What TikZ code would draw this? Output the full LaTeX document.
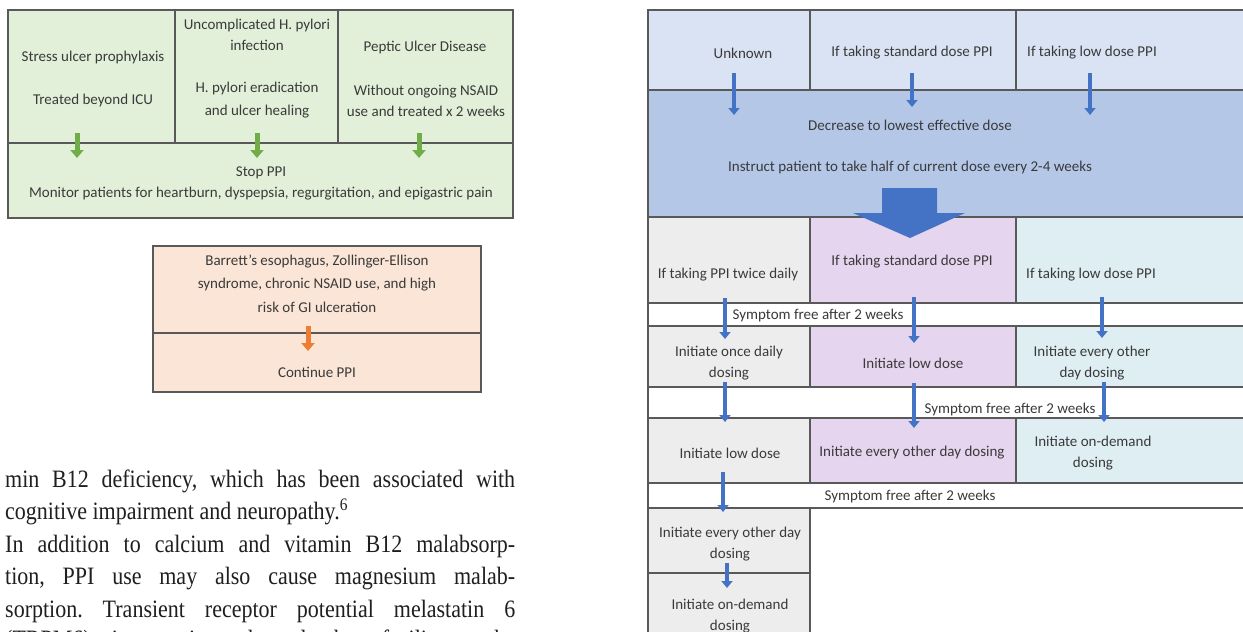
\documentclass[tikz,border=0pt]{standalone}
\usepackage{fontspec}
\setmainfont{Liberation Serif}
\newfontfamily\calib{Carlito}
\newfontfamily\bodyfont[FakeStretch=0.88]{Liberation Serif}
\usetikzlibrary{arrows.meta}
\definecolor{bordc}{HTML}{595959}
\definecolor{txtc}{HTML}{3A3A3A}
\definecolor{gfill}{HTML}{E2F0D9}
\definecolor{ofill}{HTML}{FBE5D6}
\definecolor{garrow}{HTML}{70AD47}
\definecolor{oarrow}{HTML}{ED7D31}
\definecolor{bluea}{HTML}{4472C4}
\definecolor{tfill}{HTML}{DAE3F3}
\definecolor{bigfill}{HTML}{B4C7E7}
\definecolor{grayf}{HTML}{EDEDED}
\definecolor{purf}{HTML}{E6D5EF}
\definecolor{cyf}{HTML}{DEEEF3}
\tikzset{
 cell/.style={draw=bordc, line width=1.1pt, inner sep=0pt, outer sep=0pt, rectangle},
 lbl/.style={font=\calib\fontsize{15}{21}\selectfont, text=txtc, align=center, inner sep=0pt},
 para/.style={font=\bodyfont\fontsize{25}{32}\selectfont\frenchspacing, text=black!88, inner sep=0pt, anchor=base west},
 barrow/.style={draw=bluea, line width=4pt, -{Triangle[width=11pt,length=7pt]}},
 garr/.style={draw=garrow, line width=5pt, -{Triangle[width=13pt,length=8pt]}},
 oarr/.style={draw=oarrow, line width=5pt, -{Triangle[width=13pt,length=8pt]}},
}
\begin{document}
\begin{tikzpicture}[x=1pt,y=-1pt]
\useasboundingbox (0,0) rectangle (1243,632);
\fill[white] (0,0) rectangle (1243,632);
\clip (0,0) rectangle (1243,632);

% ---------- green block ----------
\node[cell, fill=gfill, minimum width=167pt, minimum height=133pt] (g1) at (91.5,76.5) {};
\node[cell, fill=gfill, minimum width=163pt, minimum height=133pt] (g2) at (256.5,76.5) {};
\node[cell, fill=gfill, minimum width=175pt, minimum height=133pt] (g3) at (425.5,76.5) {};
\node[cell, fill=gfill, minimum width=505pt, minimum height=75pt] (g4) at (260.5,180.5) {};

\node[lbl] (g1a) at (93,57) {Stress ulcer prophylaxis};
\node[lbl] (g1b) at (93,100) {Treated beyond ICU};
\node[lbl] (g2a) at (257,35) {Uncomplicated H. pylori\\infection};
\node[lbl, font=\calib\fontsize{15}{23}\selectfont] (g2b) at (257,100) {H. pylori eradication\\and ulcer healing};
\node[lbl] (g3a) at (425,47) {Peptic Ulcer Disease};
\node[lbl] (g3b) at (426,101) {Without ongoing NSAID\\use and treated x 2 weeks};
\node[lbl] (g4a) at (261,183) {Stop PPI\\Monitor patients for heartburn, dyspepsia, regurgitation, and epigastric pain};

\coordinate (ga1) at (77,133);  \coordinate (gb1) at (77,158);
\coordinate (ga2) at (257,133); \coordinate (gb2) at (257,158);
\coordinate (ga3) at (419,133); \coordinate (gb3) at (419,158);
\draw[garr] (ga1) -- (gb1);
\draw[garr] (ga2) -- (gb2);
\draw[garr] (ga3) -- (gb3);

% ---------- orange block ----------
\node[cell, fill=ofill, minimum width=328pt, minimum height=87pt] (o1) at (317,289.5) {};
\node[cell, fill=ofill, minimum width=328pt, minimum height=59pt] (o2) at (317,362.5) {};
\node[lbl, font=\calib\fontsize{15}{23.5}\selectfont] (o1t) at (317,283.5) {Barrett’s esophagus, Zollinger-Ellison\\syndrome, chronic NSAID use, and high\\risk of GI ulceration};
\node[lbl] (o2t) at (317,372) {Continue PPI};
\coordinate (oa) at (308,326); \coordinate (ob) at (308,351);
\draw[oarr] (oa) -- (ob);

% ---------- body text ----------
\node[para] (p1) at (5,487) {\makebox[510pt][s]{min B12 deficiency, which has been associated with}};
\node[para] (p2) at (5,519.5) {cognitive impairment and neuropathy.\textsuperscript{6}};
\node[para] (p3) at (5,552) {\makebox[510pt][s]{In addition to calcium and vitamin B12 malabsorp-}};
\node[para] (p4) at (5,584.5) {\makebox[510pt][s]{tion, PPI use may also cause magnesium malab-}};
\node[para] (p5) at (5,617) {\makebox[510pt][s]{sorption. Transient receptor potential melastatin 6}};
\node[para] (p6) at (5,647) {\makebox[510pt][s]{(TRPM6) is an ion channel that facilitates the}};

% ---------- right flow ----------
\node[cell, fill=tfill, minimum width=162pt, minimum height=80pt] (t1) at (729,50) {};
\node[cell, fill=tfill, minimum width=206pt, minimum height=80pt] (t2) at (913,50) {};
\node[cell, fill=tfill, minimum width=236pt, minimum height=80pt] (t3) at (1134,50) {};
\node[cell, fill=bigfill, minimum width=604pt, minimum height=127pt] (big) at (950,153.5) {};

\node[cell, fill=grayf, minimum width=162pt, minimum height=86pt] (r1a) at (729,260) {};
\node[cell, fill=purf, minimum width=206pt, minimum height=86pt] (r1b) at (913,260) {};
\node[cell, fill=cyf, minimum width=236pt, minimum height=86pt] (r1c) at (1134,260) {};
\node[cell, fill=white, minimum width=604pt, minimum height=23pt] (s1) at (950,314.5) {};

\node[cell, fill=grayf, minimum width=162pt, minimum height=61pt] (r2a) at (729,356.5) {};
\node[cell, fill=purf, minimum width=206pt, minimum height=61pt] (r2b) at (913,356.5) {};
\node[cell, fill=cyf, minimum width=236pt, minimum height=61pt] (r2c) at (1134,356.5) {};
\node[cell, fill=white, minimum width=604pt, minimum height=31pt] (s2) at (950,402.5) {};

\node[cell, fill=grayf, minimum width=162pt, minimum height=65pt] (r3a) at (729,450.5) {};
\node[cell, fill=purf, minimum width=206pt, minimum height=65pt] (r3b) at (913,450.5) {};
\node[cell, fill=cyf, minimum width=236pt, minimum height=65pt] (r3c) at (1134,450.5) {};
\node[cell, fill=white, minimum width=604pt, minimum height=25pt] (s3) at (950,495.5) {};

\node[cell, fill=grayf, minimum width=162pt, minimum height=65pt] (r4a) at (729,540.5) {};
\node[cell, fill=grayf, minimum width=162pt, minimum height=87pt] (r5a) at (729,616.5) {};

% big block arrow
\fill[bluea] (882,188) -- (937,188) -- (937,213) -- (965,213) -- (910,238) -- (853,213) -- (882,213) -- cycle;

% labels
\node[lbl] (t1t) at (743,53) {Unknown};
\node[lbl] (t2t) at (912,53) {If taking standard dose PPI};
\node[lbl] (t3t) at (1092,53) {If taking low dose PPI};
\node[lbl] (bgt1) at (910,125) {Decrease to lowest effective dose};
\node[lbl] (bgt2) at (910,167) {Instruct patient to take half of current dose every 2-4 weeks};

\node[lbl] (r1at) at (728,275) {If taking PPI twice daily};
\node[lbl] (r1bt) at (912,262) {If taking standard dose PPI};
\node[lbl] (r1ct) at (1091,275) {If taking low dose PPI};
\node[lbl] (s1t) at (818,315) {Symptom free after 2 weeks};

\node[lbl] (r2at) at (729,363) {Initiate once daily\\dosing};
\node[lbl] (r2bt) at (913,363) {Initiate low dose};
\node[lbl] (r2ct) at (1092,363) {Initiate every other\\day dosing};
\node[lbl] (s2t) at (1010,409) {Symptom free after 2 weeks};

\node[lbl] (r3at) at (730,453) {Initiate low dose};
\node[lbl] (r3bt) at (912,453) {Initiate every other day dosing};
\node[lbl] (r3ct) at (1093,453) {Initiate on-demand\\dosing};
\node[lbl] (s3t) at (910,496) {Symptom free after 2 weeks};

\node[lbl] (r4at) at (730,544) {Initiate every other day\\dosing};
\node[lbl] (r5at) at (730,616) {Initiate on-demand\\dosing};

% blue arrows
\coordinate (ba1) at (734,73);  \coordinate (bb1) at (734,115);
\coordinate (ba2) at (912,73);  \coordinate (bb2) at (912,107);
\coordinate (ba3) at (1090,73); \coordinate (bb3) at (1090,115);
\coordinate (ca1) at (725,298); \coordinate (cb1) at (725,339);
\coordinate (ca2) at (914,297); \coordinate (cb2) at (914,343);
\coordinate (ca3) at (1102,297); \coordinate (cb3) at (1102,338);
\coordinate (da1) at (725,382); \coordinate (db1) at (725,422);
\coordinate (da2) at (914,383); \coordinate (db2) at (914,428);
\coordinate (da3) at (1104,382); \coordinate (db3) at (1104,422);
\coordinate (ea1) at (723,472); \coordinate (eb1) at (723,512);
\coordinate (fa1) at (727,563); \coordinate (fb1) at (727,588);
\draw[barrow] (ba1) -- (bb1);
\draw[barrow] (ba2) -- (bb2);
\draw[barrow] (ba3) -- (bb3);
\draw[barrow] (ca1) -- (cb1);
\draw[barrow] (ca2) -- (cb2);
\draw[barrow] (ca3) -- (cb3);
\draw[barrow] (da1) -- (db1);
\draw[barrow] (da2) -- (db2);
\draw[barrow] (da3) -- (db3);
\draw[barrow] (ea1) -- (eb1);
\draw[barrow] (fa1) -- (fb1);
\end{tikzpicture}
\end{document}
